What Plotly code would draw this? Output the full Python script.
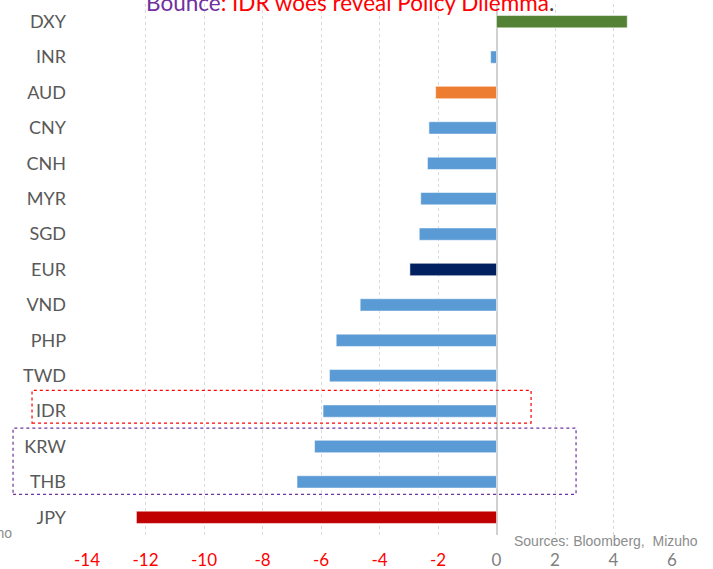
import plotly.graph_objects as go

currencies = ["DXY", "INR", "AUD", "CNY", "CNH", "MYR", "SGD", "EUR",
              "VND", "PHP", "TWD", "IDR", "KRW", "THB", "JPY"]
changes = [4.47, -0.2, -2.08, -2.31, -2.36, -2.59, -2.64, -2.96,
           -4.66, -5.48, -5.71, -5.93, -6.22, -6.82, -12.31]
bar_colors = ["#548235", "#5B9BD5", "#ED7D31", "#5B9BD5", "#5B9BD5", "#5B9BD5",
              "#5B9BD5", "#002060", "#5B9BD5", "#5B9BD5", "#5B9BD5", "#5B9BD5",
              "#5B9BD5", "#5B9BD5", "#C00000"]
x_ticks = [-14, -12, -10, -8, -6, -4, -2, 0, 2, 4, 6]

W, H = 713, 569
L, R, T, B = 86.7, 672.0, 3.5, 534.7


def px(xp):
    return (xp - L) / (R - L)


def py(yp):
    return (B - yp) / (B - T)


tick_text = [
    f"<span style='color:#FF0000'>{v}</span>" if v < 0 else f"<span style='color:#7f7f7f'>{v}</span>"
    for v in x_ticks
]

fig = go.Figure(go.Bar(
    x=changes, y=currencies, orientation="h",
    marker=dict(color=bar_colors, line=dict(color="rgba(255,255,255,0.5)", width=1)),
    hoverinfo="x+y",
))

fig.update_layout(
    width=W, height=H,
    margin=dict(l=L, r=W - R, t=T, b=H - B, pad=0, autoexpand=False),
    paper_bgcolor="white", plot_bgcolor="white",
    bargap=0.652, showlegend=False,
    font=dict(family="Lato", color="#595959"),
)

fig.update_xaxes(
    range=[-14, 6], tickvals=x_ticks, ticktext=tick_text,
    showgrid=True, gridcolor="#d9d9d9", griddash="dot", gridwidth=1,
    zeroline=True, zerolinecolor="#d0d0d0", zerolinewidth=1.5,
    showline=False, ticks="", tickfont=dict(family="Lato", size=17),
    ticklabelstandoff=13, fixedrange=True, automargin=False,
)
fig.update_yaxes(
    categoryorder="array", categoryarray=currencies, autorange="reversed",
    showgrid=False, showline=False, ticks="",
    tickfont=dict(family="Lato", size=18, color="#595959"),
    ticklabelstandoff=20, fixedrange=True, automargin=False,
)

# title (partly cut off at the top)
fig.add_annotation(
    xref="paper", yref="paper", x=px(144), y=py(1.5), xanchor="left", yanchor="middle",
    text="<span style='color:#7030A0'>Bounce</span><span style='color:#FF0000'>: IDR woes reveal Policy Dilemma</span><span style='color:#404040'>.</span>",
    showarrow=False, font=dict(family="Lato", size=22.5),
)

# sources
fig.add_annotation(
    xref="paper", yref="paper", x=px(700), y=py(541), xanchor="right", yanchor="middle",
    text="Sources: Bloomberg,  Mizuho", showarrow=False,
    font=dict(family="Liberation Sans", size=14, color="#8c8c8c"),
)
# stray clipped text at left edge
fig.add_annotation(
    xref="paper", yref="paper", x=px(14), y=py(533), xanchor="right", yanchor="middle",
    text="Mizuho", showarrow=False,
    font=dict(family="Liberation Sans", size=14, color="#8c8c8c"),
)

# dashed highlight boxes
fig.add_shape(type="rect", xref="paper", yref="paper",
              x0=px(31.7), x1=px(531), y0=py(422.7), y1=py(390),
              line=dict(color="#FF0000", width=1.2, dash="dot"))
fig.add_shape(type="rect", xref="paper", yref="paper",
              x0=px(12.7), x1=px(576), y0=py(494), y1=py(427.7),
              line=dict(color="#7030A0", width=1.2, dash="dot"))

fig.write_html("out.html")
